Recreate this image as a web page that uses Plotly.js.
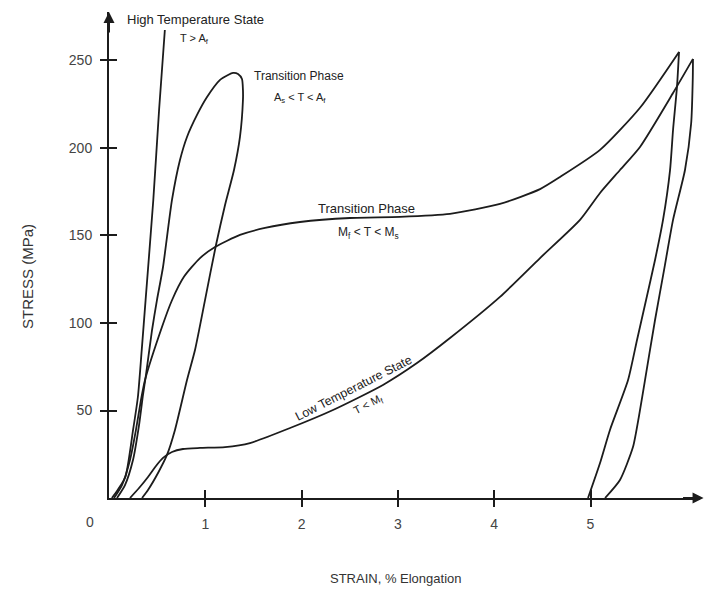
<!DOCTYPE html>
<html>
<head>
<meta charset="utf-8">
<script src="https://cdn.plot.ly/plotly-3.0.1.min.js"></script>
<style>html,body{margin:0;padding:0;background:#fff;}#chart{width:706px;height:597px;}</style>
</head>
<body>
<div id="chart"></div>
<script>
// High Temperature State (T > Af)
const hiStrain = [0.03, 0.09, 0.17, 0.25, 0.30, 0.34, 0.38, 0.46, 0.52, 0.58];
const hiStress = [0, 4.6, 12, 38.9, 57.7, 84.6, 113.1, 170.3, 221.7, 267.4];

// Transition Phase (As < T < Af): loading then unloading loop
const afStrain = [0.083, 0.166, 0.249, 0.312, 0.353, 0.384, 0.447, 0.498, 0.561, 0.654, 0.737, 0.81, 0.914, 1.018, 1.153, 1.236, 1.288, 1.34, 1.381, 1.391, 1.391, 1.36, 1.298, 1.205, 1.111, 0.997, 0.893, 0.81, 0.685, 0.602, 0.509, 0.405, 0.343];
const afStress = [0, 7.4, 21.7, 41.7, 58.9, 70.3, 96, 113.1, 132, 170.3, 193.1, 206.3, 218.9, 229.1, 238.9, 241.7, 242.9, 242.3, 239.4, 233.1, 227.4, 206.3, 187.4, 167.4, 144.6, 113.1, 84.6, 67.4, 38.9, 24.6, 14.3, 4.6, 0];

// Transition Phase (Mf < T < Ms)
const msLoadStrain = [0.052, 0.135, 0.218, 0.28, 0.332, 0.374, 0.55, 0.654, 0.78, 0.945, 1.101, 1.36, 1.62, 1.983, 2.502, 3.022, 3.541, 4.06, 4.476, 4.683, 5.099, 5.514, 5.919];
const msLoadStress = [0, 7.4, 21.7, 38.9, 56, 67.4, 97.7, 113, 126.5, 137.1, 143.4, 150.3, 154.3, 157.7, 160, 160.6, 162.3, 168, 176.5, 183.4, 198.9, 223, 254.9];
const msUnloadStrain = [5.919, 5.898, 5.857, 5.826, 5.753, 5.67, 5.577, 5.483, 5.39, 5.202, 5.099, 4.974];
const msUnloadStress = [254.9, 234.9, 210.3, 187.4, 158.9, 136, 113.1, 90.3, 67.4, 38.9, 20, 0];

// Low Temperature State (T < Mf)
const lowLoadStrain = [0.218, 0.312, 0.405, 0.488, 0.561, 0.654, 0.768, 0.945, 1.205, 1.464, 1.88, 2.326, 2.845, 3.198, 3.541, 4.06, 4.476, 4.891, 5.099, 5.306, 5.514, 5.857, 6.064];
const lowLoadStress = [0, 5.7, 12, 18.3, 22.9, 26.3, 28, 28.6, 29.1, 31.4, 40, 50.3, 64.6, 77.1, 91.4, 114.9, 137.1, 158.9, 174.3, 187.4, 200.6, 231.4, 250.9];
const lowUnloadStrain = [6.064, 6.062, 6.045, 5.981, 5.857, 5.764, 5.67, 5.566, 5.505, 5.441, 5.306, 5.151];
const lowUnloadStress = [250.9, 240, 214, 187.4, 158.9, 130.3, 101.7, 67.4, 47.4, 29.1, 10.3, 0];

// Axis ticks
const xTickVals = [1, 2, 3, 4, 5];
const xTickText = ['1', '2', '3', '4', '5'];
const yTickVals = [50, 100, 150, 200, 250];
const yTickText = ['50', '100', '150', '200', '250'];

const xRange = [0, 6.137];
const yRange = [0, 277.7];
const ink = '#1c1c1c';
const font = 'Liberation Sans, Arial, sans-serif';

function curve(x, y) {
  return {x: x, y: y, type: 'scatter', mode: 'lines',
    line: {color: ink, width: 1.8, shape: 'spline', smoothing: 0.6},
    hoverinfo: 'skip', showlegend: false};
}

const traces = [
  curve(hiStrain, hiStress),
  curve(afStrain, afStress),
  curve(msLoadStrain, msLoadStress),
  curve(msUnloadStrain, msUnloadStress),
  curve(lowLoadStrain, lowLoadStress),
  curve(lowUnloadStrain, lowUnloadStress),
  {x: [], y: [], type: 'scatter', mode: 'lines', xaxis: 'x2', yaxis: 'y2', showlegend: false, hoverinfo: 'skip'}
];

const tickFont = {family: font, size: 14, color: '#444'};
const txt = {family: font, size: 12, color: '#222'};

const layout = {
  width: 706, height: 597,
  margin: {l: 109, r: 6, t: 12, b: 99},
  paper_bgcolor: '#fff', plot_bgcolor: '#fff',
  showlegend: false,
  xaxis: {range: xRange, showline: true, linecolor: ink, linewidth: 2, showgrid: false, zeroline: false,
    ticks: 'outside', ticklen: 7, tickwidth: 2, tickcolor: ink, tickvals: xTickVals, ticktext: xTickText,
    tickfont: tickFont, ticklabelstandoff: 5, fixedrange: true},
  yaxis: {range: yRange, showline: true, linecolor: ink, linewidth: 2, showgrid: false, zeroline: false,
    ticks: 'outside', ticklen: 7, tickwidth: 2, tickcolor: ink, tickvals: yTickVals, ticktext: yTickText,
    tickfont: tickFont, ticklabelstandoff: 5, fixedrange: true},
  xaxis2: {range: xRange, overlaying: 'x', anchor: 'y', side: 'bottom', showline: false, showgrid: false, zeroline: false,
    ticks: 'inside', ticklen: 8, tickwidth: 2, tickcolor: ink, tickvals: xTickVals, showticklabels: false, fixedrange: true},
  yaxis2: {range: yRange, overlaying: 'y', anchor: 'x', side: 'left', showline: false, showgrid: false, zeroline: false,
    ticks: 'inside', ticklen: 8, tickwidth: 2, tickcolor: ink, tickvals: yTickVals, showticklabels: false, fixedrange: true},
  annotations: [
    // axis arrows
    {xref: 'paper', yref: 'paper', x: 1.006, y: 0, ax: -22, ay: 0, showarrow: true, arrowhead: 2, arrowsize: 1.1, arrowwidth: 2, arrowcolor: ink, text: ''},
    {xref: 'paper', yref: 'paper', x: 0, y: 1.0, ax: 0, ay: 22, showarrow: true, arrowhead: 2, arrowsize: 1.1, arrowwidth: 2, arrowcolor: ink, text: ''},
    // origin label
    {xref: 'paper', yref: 'paper', x: -0.032, y: 0, yshift: -24, text: '0', showarrow: false, font: tickFont, xanchor: 'center', yanchor: 'middle'},
    // axis titles
    {xref: 'paper', yref: 'paper', x: 0.485, y: -0.165, text: 'STRAIN, % Elongation', showarrow: false,
      font: {family: font, size: 13, color: '#333'}, xanchor: 'center', yanchor: 'middle'},
    {xref: 'paper', yref: 'paper', x: -0.137, y: 0.455, text: 'STRESS (MPa)', textangle: -90, showarrow: false,
      font: {family: font, size: 15, color: '#333'}, xanchor: 'center', yanchor: 'middle'},
    // curve labels
    {x: 0.903, y: 273.7, text: 'High Temperature State', showarrow: false, font: {family: font, size: 13, color: '#222'}},
    {x: 0.89, y: 262.3, text: 'T &gt; A<sub>f</sub>', showarrow: false, font: {family: font, size: 11, color: '#222'}},
    {x: 1.973, y: 241.1, text: 'Transition Phase', showarrow: false, font: txt},
    {x: 1.983, y: 228.6, text: 'A<sub>s</sub> &lt; T &lt; A<sub>f</sub>', showarrow: false, font: {family: font, size: 11, color: '#222'}},
    {x: 2.679, y: 165.6, text: 'Transition Phase', showarrow: false, font: {family: font, size: 13, color: '#222'}},
    {x: 2.69, y: 151.4, text: 'M<sub>f</sub> &lt; T &lt; M<sub>s</sub>', showarrow: false, font: {family: font, size: 12, color: '#222'}},
    {x: 2.544, y: 62.9, text: 'Low Temperature State', textangle: -27, showarrow: false, font: {family: font, size: 12.5, color: '#222'}},
    {x: 2.69, y: 53.1, text: 'T &lt; M<sub>f</sub>', textangle: -27, showarrow: false, font: {family: font, size: 11, color: '#222'}}
  ]
};

Plotly.newPlot('chart', traces, layout, {staticPlot: true, displayModeBar: false});
</script>
</body>
</html>
